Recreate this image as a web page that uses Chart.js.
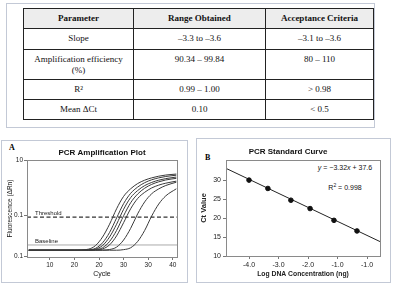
<!DOCTYPE html>
<html>
<head>
<meta charset="utf-8">
<script src="https://cdn.jsdelivr.net/npm/chart.js"></script>
<style>
  body { margin:0; width:400px; height:286px; background:#fff; position:relative; overflow:hidden; font-family:"Liberation Sans",sans-serif; }
  .frame { position:absolute; border:1px solid #c3c9d6; box-sizing:border-box; }
  #tbl { position:absolute; left:23px; top:8px; border-collapse:collapse; font-family:"Liberation Serif",serif; font-size:9px; color:#111; table-layout:fixed; }
  #tbl td, #tbl th { border:1px solid #222; text-align:center; vertical-align:top; padding:4px 2px 0; line-height:11px; }
  #tbl th { font-weight:bold; background:#ededed; }
  .letter { position:absolute; font-family:"Liberation Serif",serif; font-weight:bold; font-size:8px; }
  .eq { position:absolute; left:300px; width:90px; text-align:center; font-size:7px; color:#111; white-space:nowrap; }
  canvas { position:absolute; }
</style>
</head>
<body>
<div class="frame" style="left:6px;top:3px;width:369px;height:125px"></div>
<table id="tbl"></table>

<div class="frame" style="left:1px;top:140px;width:187px;height:143px"></div>
<div class="frame" style="left:196px;top:138px;width:195px;height:145px"></div>
<div class="letter" style="left:9px;top:143px">A</div>
<div class="letter" style="left:205px;top:153px">B</div>
<div class="eq" style="top:164px"><i>y</i> = −3.32<i>x</i> + 37.6</div>
<div class="eq" style="top:182px">R<sup style="font-size:5px">2</sup> = 0.998</div>

<div style="position:absolute;left:1px;top:140px;width:186px;height:142px"><canvas id="ampChart"></canvas></div>
<div style="position:absolute;left:196px;top:138px;width:194px;height:145px"><canvas id="stdChart"></canvas></div>

<script>
// table
const tableHeaders = ['Parameter', 'Range Obtained', 'Acceptance Criteria'];
const tableParams = ['Slope', 'Amplification efficiency<br>(%)', 'R²', 'Mean ΔCt'];
const tableRange = ['–3.3 to –3.6', '90.34 – 99.84', '0.99 – 1.00', '0.10'];
const tableCriteria = ['–3.1 to –3.6', '80 – 110', '> 0.98', '< 0.5'];
const rowHeights = [20, 21, 30, 20, 20];
const colWidths = [110, 132, 108];

let html = '<colgroup>' + colWidths.map(w => '<col style="width:' + w + 'px">').join('') + '</colgroup>';
html += '<tr style="height:' + rowHeights[0] + 'px">' + tableHeaders.map(h => '<th>' + h + '</th>').join('') + '</tr>';
for (let i = 0; i < tableParams.length; i++) {
  html += '<tr style="height:' + rowHeights[i + 1] + 'px"><td>' + tableParams[i] + '</td><td>' + tableRange[i] + '</td><td>' + tableCriteria[i] + '</td></tr>';
}
document.getElementById('tbl').innerHTML = html;

// panel A: amplification plot
const cycles = [1, 8, 14, 18, 20, 22, 24, 26, 28, 30, 32, 34, 36, 38, 40, 43];
const curve1 = [7, 7, 7, 8.1, 11.8, 20.6, 33.8, 49.7, 62.5, 70.3, 75.7, 79.2, 81.6, 83.3, 84.5, 85.5];
const curve2 = [7, 7, 7, 7.5, 8.9, 14.6, 25.3, 40.2, 55.0, 65.6, 72.1, 76.6, 79.6, 81.6, 83.0, 84.3];
const curve3 = [7, 7, 7, 7.2, 8.1, 11.8, 20.6, 33.8, 49.2, 61.2, 68.5, 73.6, 76.9, 79.2, 80.8, 82.4];
const curve4 = [7, 7, 7, 7, 7.6, 9.5, 16, 27.4, 42.5, 55.9, 64.9, 70.9, 74.9, 77.5, 79.4, 81.1];
const curve5 = [7, 7, 7, 7, 7.3, 8.3, 12.5, 21.8, 35.4, 49.7, 60.3, 66.7, 71.2, 74.1, 76.1, 78.2];
const curve6 = [7, 7, 7, 7, 7, 7.1, 7.7, 10.2, 17.5, 29.5, 44.5, 56.8, 65.2, 70.2, 73.7, 77.1];
const curve7 = [7, 7, 7, 7, 7, 7, 7, 7, 7.6, 9.5, 16, 27.4, 42.3, 54.6, 63.0, 70.3];
const thresholdLevel = 41.2;
const baselineLevel = 12.4;
const ampXTicks = [7, 14, 21, 28, 35, 42];
const ampXLabels = ['10', '20', '20', '30', '30', '40'];
const ampYTicks = [1, 43, 100];
const ampYLabels = ['0.1', '0.1', '10'];
const ampXMin = 0.5, ampXMax = 43.2;

const sans = '"Liberation Sans",sans-serif';

const framePlugin = {
  id: 'frame',
  afterDatasetsDraw(chart) {
    const a = chart.chartArea, ctx = chart.ctx;
    ctx.save();
    ctx.strokeStyle = '#8a8a8a';
    ctx.lineWidth = 1;
    ctx.strokeRect(Math.round(a.left) + 0.5, Math.round(a.top) + 0.5, Math.round(a.right - a.left), Math.round(a.bottom - a.top));
    ctx.restore();
  }
};

const lineLabels = {
  id: 'lineLabels',
  afterDatasetsDraw(chart) {
    const ctx = chart.ctx, x = chart.scales.x, y = chart.scales.y;
    ctx.save();
    ctx.font = '6px ' + sans;
    ctx.fillStyle = '#222';
    ctx.textBaseline = 'bottom';
    ctx.fillText('Threshold', x.left + 8, y.getPixelForValue(thresholdLevel) - 1);
    ctx.fillText('Baseline', x.left + 8, y.getPixelForValue(baselineLevel) - 1);
    ctx.restore();
  }
};

const curves = [curve1, curve2, curve3, curve4, curve5, curve6, curve7];
const ampDatasets = curves.map(c => ({
  data: cycles.map((x, i) => ({ x: x, y: c[i] })),
  borderColor: '#3a3a3a', borderWidth: 1, pointRadius: 0, cubicInterpolationMode: 'monotone'
}));
ampDatasets.push({
  data: [{ x: ampXMin, y: thresholdLevel }, { x: ampXMax, y: thresholdLevel }],
  borderColor: '#333', borderWidth: 1.2, borderDash: [4, 2.5], pointRadius: 0
});
ampDatasets.push({
  data: [{ x: ampXMin, y: baselineLevel }, { x: ampXMax, y: baselineLevel }],
  borderColor: '#aaa', borderWidth: 1, pointRadius: 0
});

new Chart(document.getElementById('ampChart'), {
  type: 'line',
  data: { datasets: ampDatasets },
  plugins: [framePlugin, lineLabels],
  options: {
    responsive: true, maintainAspectRatio: false, animation: false,
    layout: { padding: { left: 0, right: 10, top: 0, bottom: 0 } },
    plugins: {
      legend: { display: false }, tooltip: { enabled: false },
      title: { display: true, text: 'PCR Amplification Plot', fullSize: false, color: '#111',
        font: { family: sans, size: 8, weight: 'bold' }, padding: { top: 8, bottom: 2.4 } }
    },
    scales: {
      x: {
        type: 'linear', min: ampXMin, max: ampXMax,
        afterBuildTicks: s => { s.ticks = ampXTicks.map(v => ({ value: v })); },
        afterFit: s => { s.height = 25; },
        ticks: { callback: (v, i) => ampXLabels[i], font: { family: sans, size: 6.5 }, color: '#222', padding: 1, maxRotation: 0 },
        grid: { drawOnChartArea: false, tickLength: 3, color: '#777' },
        border: { display: false },
        title: { display: true, text: 'Cycle', font: { family: sans, size: 7 }, color: '#111', padding: { top: 0, bottom: 4 } }
      },
      y: {
        type: 'linear', min: 0, max: 100,
        afterBuildTicks: s => { s.ticks = ampYTicks.map(v => ({ value: v })); },
        afterFit: s => { s.width = 26; },
        ticks: { callback: (v, i) => ampYLabels[i], font: { family: sans, size: 6.5 }, color: '#222', padding: 1 },
        grid: { drawOnChartArea: false, tickLength: 3, color: '#777' },
        border: { display: false },
        title: { display: true, text: 'Fluorescence (ΔRn)', font: { family: sans, size: 6.5 }, color: '#111', padding: { top: 5, bottom: 0 } }
      }
    }
  }
});

// panel B: standard curve
const logConc = [-4.0, -3.36, -2.58, -1.93, -1.12, -0.34];
const ctValues = [30.0, 27.8, 24.7, 22.5, 19.4, 16.6];
const fitX = [-4.78, 0.44];
const fitY = [33.1, 13.8];
const stdXTicks = [-4, -3, -2, -1, 0];
const stdXLabels = ['-4.0', '-3.0', '-2.0', '-1.0', '-1.0'];
const stdYTicks = [10, 15, 20, 25, 30];

new Chart(document.getElementById('stdChart'), {
  type: 'scatter',
  data: {
    datasets: [
      { data: logConc.map((x, i) => ({ x: x, y: ctValues[i] })), backgroundColor: '#111', borderColor: '#111', pointRadius: 2.3 },
      { type: 'line', data: fitX.map((x, i) => ({ x: x, y: fitY[i] })), borderColor: '#222', borderWidth: 1, pointRadius: 0 }
    ]
  },
  plugins: [framePlugin],
  options: {
    responsive: true, maintainAspectRatio: false, animation: false,
    layout: { padding: { left: 0, right: 10, top: 0, bottom: 0 } },
    plugins: {
      legend: { display: false }, tooltip: { enabled: false },
      title: { display: true, text: 'PCR Standard Curve', fullSize: true, color: '#111',
        font: { family: sans, size: 8, weight: 'bold' }, padding: { top: 9, bottom: 3.4 } }
    },
    scales: {
      x: {
        type: 'linear', min: fitX[0], max: fitX[1],
        afterBuildTicks: s => { s.ticks = stdXTicks.map(v => ({ value: v })); },
        afterFit: s => { s.height = 27; },
        ticks: { callback: (v, i) => stdXLabels[i], font: { family: sans, size: 7 }, color: '#222', padding: 2, maxRotation: 0 },
        grid: { drawOnChartArea: false, tickLength: 3, color: '#777' },
        border: { display: false },
        title: { display: true, text: 'Log DNA Concentration (ng)', font: { family: sans, size: 6.8, weight: 'bold' }, color: '#222', padding: { top: 0, bottom: 5 } }
      },
      y: {
        type: 'linear', min: 10, max: 35.3,
        afterBuildTicks: s => { s.ticks = stdYTicks.map(v => ({ value: v })); },
        afterFit: s => { s.width = 30; },
        ticks: { font: { family: sans, size: 7 }, color: '#222', padding: 2 },
        grid: { drawOnChartArea: false, tickLength: 3, color: '#777' },
        border: { display: false },
        title: { display: true, text: 'Ct Value', font: { family: sans, size: 7.5, weight: 'bold' }, color: '#222', padding: { top: 3, bottom: 0 } }
      }
    }
  }
});
</script>
</body>
</html>
